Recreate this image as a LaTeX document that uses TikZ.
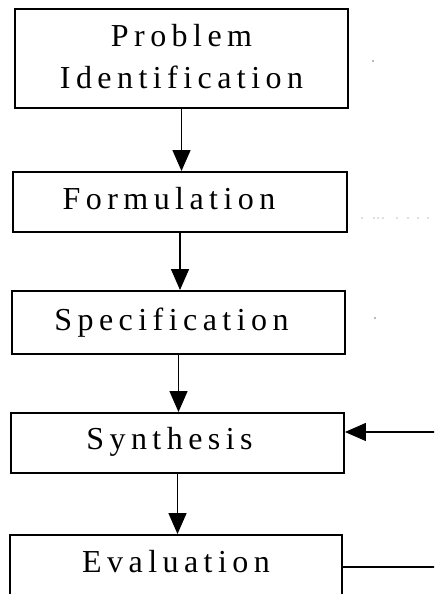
\documentclass[tikz,border=0pt]{standalone}
\usepackage{fontspec}
\setmainfont{Liberation Serif}
\newfontfamily\stageface[LetterSpace=17]{Liberation Serif}
\usetikzlibrary{arrows.meta}
\begin{document}
\begin{tikzpicture}[x=1pt,y=1pt,
  stage/.style={draw, line width=1.9pt, inner sep=0pt,
    font=\stageface\fontsize{32}{42}\selectfont},
  % pad the right of a label so the lettering sits a little left of centre
  leftpad/.style={execute at end node={\hspace*{#1}}},
  flow/.style={-{Triangle[width=18pt,length=21pt]}, line width=1.4pt},
  speck/.style={fill=black!55}]
\useasboundingbox (0,0) rectangle (434,594);
\clip (0,0) rectangle (434,594);

% design stages, top to bottom
\node[stage, minimum width=333pt, minimum height=99pt,
      text height=80pt, text depth=19pt, align=center]
  (b1) at (181.5,535.5) {Problem\\Identification};
\node[stage, leftpad=22pt, minimum width=334pt, minimum height=60pt,
      text height=38pt, text depth=22pt]
  (b2) at (180,392) {Formulation};
\node[stage, leftpad=14pt, minimum width=333pt, minimum height=63pt,
      text height=40pt, text depth=23pt]
  (b3) at (178.5,271.5) {Specification};
\node[stage, leftpad=16pt, minimum width=333pt, minimum height=60pt,
      text height=37pt, text depth=23pt]
  (b4) at (177.5,151) {Synthesis};
\node[stage, minimum width=332pt, minimum height=79pt,
      text height=38pt, text depth=41pt]
  (b5) at (176,19.5) {Evaluation};

% downward flow
\draw[flow] (b1.south) -- (b1.south |- b2.north);
\draw[flow] (b2.south) -- (b2.south |- b3.north);
\draw[flow] (b3.south) -- (b3.south |- b4.north);
\draw[flow] (b4.south) -- (b4.south |- b5.north);

% feedback entering synthesis, leaving evaluation
\coordinate (fin) at (436,162);
\coordinate (fout) at (436,27);
\draw[flow] (fin) -- (fin -| b4.east);
\draw[line width=1.4pt] (fout -| b5.east) -- (fout);

% faint specks at the right margin
\fill[speck] (373,533) circle (0.8);
\foreach \x in {362,374,378,383,397,408,418,428}
  \fill[speck] (\x,376) circle (0.6);
\fill[speck] (375,276) circle (0.8);
\end{tikzpicture}
\end{document}
